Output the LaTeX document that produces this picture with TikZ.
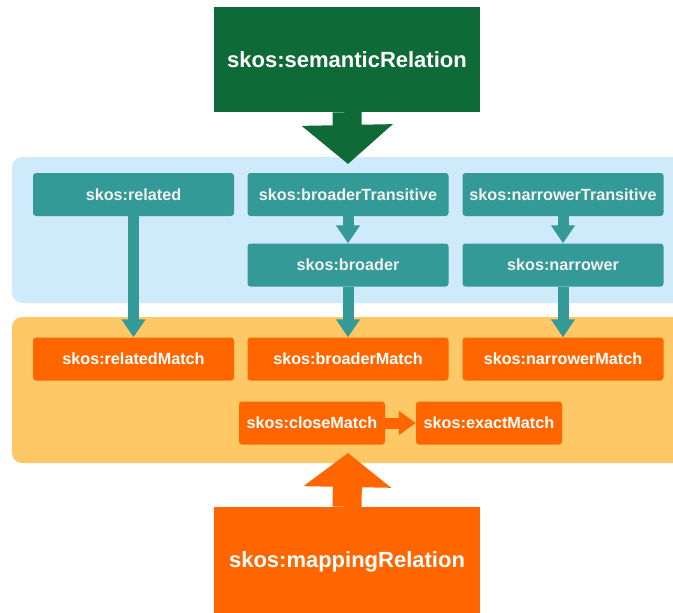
\documentclass[tikz,border=0pt]{standalone}
\usepackage{fontspec}
\setmainfont{Liberation Sans}
\usetikzlibrary{arrows.meta}

\definecolor{semgreen}{HTML}{0E6B38}
\definecolor{teal}{HTML}{349A98}
\definecolor{skyback}{HTML}{CFEAFB}
\definecolor{ambback}{HTML}{FDC865}
\definecolor{mapor}{HTML}{FF6600}
\definecolor{paletext}{HTML}{F2F2EE}

\tikzset{
  panel/.style={rounded corners=10pt, draw=none},
  concept/.style={rectangle, rounded corners=3pt, fill=teal, text=paletext,
    minimum width=201pt, minimum height=43pt, inner sep=0pt,
    font=\fontsize{16.2}{18}\selectfont\bfseries},
  match/.style={concept, fill=mapor, text=white},
  bigbox/.style={rectangle, minimum width=266pt, inner sep=0pt,
    font=\fontsize{22}{26}\selectfont\bfseries, text=white},
  tealarrow/.style={draw=teal, line width=11pt,
    -{Triangle[width=23pt,length=18pt]}},
  orarrow/.style={draw=mapor, line width=11pt,
    -{Triangle[width=23pt,length=17pt]}},
}

\begin{document}
\begin{tikzpicture}[x=1pt, y=-1pt]
  \clip (0,0) rectangle (673,613);
  \fill[white] (0,0) rectangle (673,613);

  % background bands
  \fill[panel, skyback] (12,157) rectangle (700,303);
  \fill[panel, ambback] (12,317) rectangle (700,463);

  % top and bottom relation boxes
  \node[bigbox, fill=semgreen, minimum height=105pt] (sem) at (347,59.5) {skos:semanticRelation};
  \node[bigbox, fill=mapor, minimum height=110pt] (map) at (347,562) {skos:mappingRelation};

  % semantic relations
  \node[concept] (rel)  at (133.5,194.5) {skos:related};
  \node[concept] (bt)   at (348,194.5)   {skos:broaderTransitive};
  \node[concept] (nt)   at (563,194.5)   {skos:narrowerTransitive};
  \node[concept] (br)   at (348,265)     {skos:broader};
  \node[concept] (nr)   at (563,265)     {skos:narrower};

  % mapping relations
  \node[match] (relm) at (133.5,359) {skos:relatedMatch};
  \node[match] (brm)  at (348,359)   {skos:broaderMatch};
  \node[match] (nrm)  at (563,359)   {skos:narrowerMatch};
  \node[match, minimum width=146pt] (clm) at (312,423) {skos:closeMatch};
  \node[match, minimum width=146pt] (exm) at (489,423) {skos:exactMatch};

  % tips of the two large arrows
  \coordinate (semtip) at (348,164);
  \coordinate (maptip) at (348,453);

  % large block arrows
  \draw[draw=semgreen, line width=29pt, -{Triangle[width=89pt,length=39pt]}]
    (sem.south) -- (semtip);
  \draw[draw=mapor, line width=29pt, -{Triangle[width=86pt,length=34pt]}]
    (map.north) -- (maptip);

  % connectors between concepts
  \draw[tealarrow] (bt.south) -- (br.north);
  \draw[tealarrow] (nt.south) -- (nr.north);
  \draw[tealarrow] (rel.south) -- (relm.north);
  \draw[tealarrow] (br.south) -- (brm.north);
  \draw[tealarrow] (nr.south) -- (nrm.north);
  \draw[orarrow] (clm.east) -- (exm.west);
\end{tikzpicture}
\end{document}
